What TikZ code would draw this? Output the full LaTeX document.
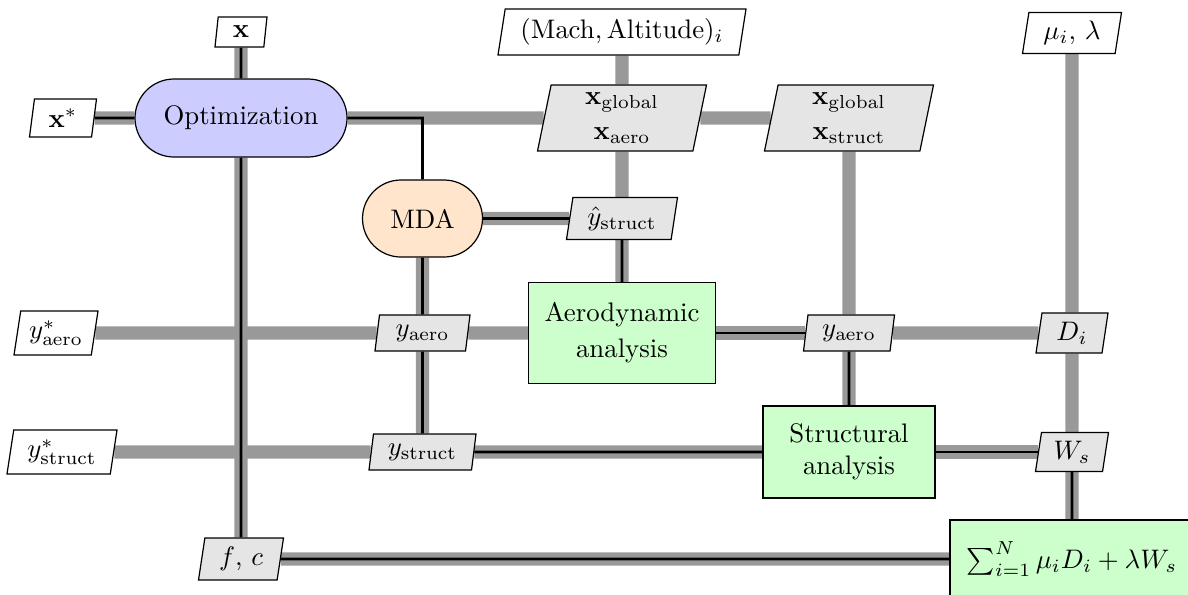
\documentclass[tikz,border=0pt]{standalone}
\usetikzlibrary{shapes.geometric,shapes.misc,backgrounds}
\newdimen\pxu \pxu=0.37313pt
\tikzset{
 dataio/.style={trapezium, trapezium left angle=75, trapezium right angle=105, trapezium stretches body, draw, line width=0.45pt, fill=black!10, inner sep=0pt, align=center},
 inio/.style={dataio, fill=white},
 optbox/.style={rounded rectangle, draw, line width=0.45pt, fill=blue!20, inner sep=0pt},
 mdabox/.style={rounded rectangle, draw, line width=0.45pt, fill=orange!20, inner sep=0pt},
 anabox/.style={rectangle, draw, line width=0.45pt, fill=green!20, inner sep=0pt, align=center},
 dataline/.style={draw=black!40, line width=5pt},
 procline/.style={draw=black, line width=1pt},
}
\begin{document}
\begin{tikzpicture}[x=0.37313pt, y=-0.37313pt]
\useasboundingbox (0,0) rectangle (1188,594);
% top inputs
\node[inio, minimum width=52\pxu, minimum height=30\pxu] (x) at (241,32) {$\mathbf{x}$};
\node[inio, minimum width=248\pxu, minimum height=46\pxu] (mach) at (622,32) {$(\mathrm{Mach}, \mathrm{Altitude})_i$};
\node[inio, minimum width=99\pxu, minimum height=41\pxu] (mu) at (1072,33) {$\mu_i$, $\lambda$};
% row 1
\node[inio, minimum width=67\pxu, minimum height=38\pxu] (xs) at (63,118) {$\mathbf{x}^*$};
\node[optbox, minimum width=212\pxu, minimum height=78\pxu] (opt) at (241,118) {Optimization};
\node[dataio, minimum width=169\pxu, minimum height=66\pxu] (xga) at (622,118) {$\mathbf{x}_\mathrm{global}$\\[1pt]$\mathbf{x}_\mathrm{aero}$};
\node[dataio, minimum width=169\pxu, minimum height=66\pxu] (xgs) at (849,118) {$\mathbf{x}_\mathrm{global}$\\[1pt]$\mathbf{x}_\mathrm{struct}$};
% row 2
\node[mdabox, minimum width=120\pxu, minimum height=77\pxu] (mda) at (422.5,218.5) {MDA};
\node[dataio, minimum width=111\pxu, minimum height=42\pxu] (yh) at (622,218.5) {$\hat{y}_\mathrm{struct}$};
% row 3
\node[inio, minimum width=84\pxu, minimum height=44\pxu] (ysa) at (56,333) {$y^*_\mathrm{aero}$};
\node[dataio, minimum width=95\pxu, minimum height=36\pxu] (ya2) at (422.5,333) {$y_\mathrm{aero}$};
\node[anabox, minimum width=187\pxu, minimum height=101\pxu] (aero) at (622,333) {Aerodynamic\\[1.5pt]analysis};
\node[dataio, minimum width=91\pxu, minimum height=36\pxu] (ya4) at (849,333) {$y_\mathrm{aero}$};
\node[dataio, minimum width=72\pxu, minimum height=40\pxu] (di) at (1072,333) {$D_i$};
% row 4
\node[inio, minimum width=110\pxu, minimum height=44\pxu] (yss) at (62,452) {$y^*_\mathrm{struct}$};
\node[dataio, minimum width=107\pxu, minimum height=36\pxu] (ys2) at (422.5,452) {$y_\mathrm{struct}$};
\node[anabox, minimum width=172\pxu, minimum height=92\pxu] (str) at (849,452) {Structural\\analysis};
\node[dataio, minimum width=73\pxu, minimum height=39\pxu] (ws) at (1072,452) {$W_s$};
% row 5
\node[dataio, minimum width=85\pxu, minimum height=42\pxu] (fc) at (241,559) {$f$, $c$};
\node[anabox, minimum width=244\pxu, minimum height=78\pxu] (sum) at (1072,559) {$\sum_{i=1}^N \mu_i D_i + \lambda W_s$};
\coordinate (bend) at (422.5,118);
\begin{scope}[on background layer]
 % data lines
 \draw[dataline] (x) -- (opt);
 \draw[dataline] (xs) -- (opt);
 \draw[dataline] (opt) -- (xga);
 \draw[dataline] (xga) -- (xgs);
 \draw[dataline] (mach) -- (xga);
 \draw[dataline] (xga) -- (yh);
 \draw[dataline] (yh) -- (aero);
 \draw[dataline] (mda) -- (yh);
 \draw[dataline] (mda) -- (ya2);
 \draw[dataline] (ya2) -- (ys2);
 \draw[dataline] (ysa) -- (ya2);
 \draw[dataline] (ya2) -- (aero);
 \draw[dataline] (aero) -- (ya4);
 \draw[dataline] (ya4) -- (di);
 \draw[dataline] (xgs) -- (ya4);
 \draw[dataline] (ya4) -- (str);
 \draw[dataline] (mu) -- (di);
 \draw[dataline] (di) -- (ws);
 \draw[dataline] (ws) -- (sum);
 \draw[dataline] (yss) -- (ys2);
 \draw[dataline] (ys2) -- (str);
 \draw[dataline] (str) -- (ws);
 \draw[dataline] (opt) -- (fc);
 \draw[dataline] (fc) -- (sum);
 % process lines
 \draw[procline] (x) -- (opt);
 \draw[procline] (xs) -- (opt);
 \draw[procline] (opt) -- (bend) -- (mda);
 \draw[procline] (yh) -- (aero);
 \draw[procline] (mda) -- (yh);
 \draw[procline] (mda) -- (ya2);
 \draw[procline] (ya2) -- (ys2);
 \draw[procline] (aero) -- (ya4);
 \draw[procline] (ya4) -- (str);
 \draw[procline] (ws) -- (sum);
 \draw[procline] (ys2) -- (str);
 \draw[procline] (str) -- (ws);
 \draw[procline] (opt) -- (fc);
 \draw[procline] (fc) -- (sum);
\end{scope}
\end{tikzpicture}
\end{document}
